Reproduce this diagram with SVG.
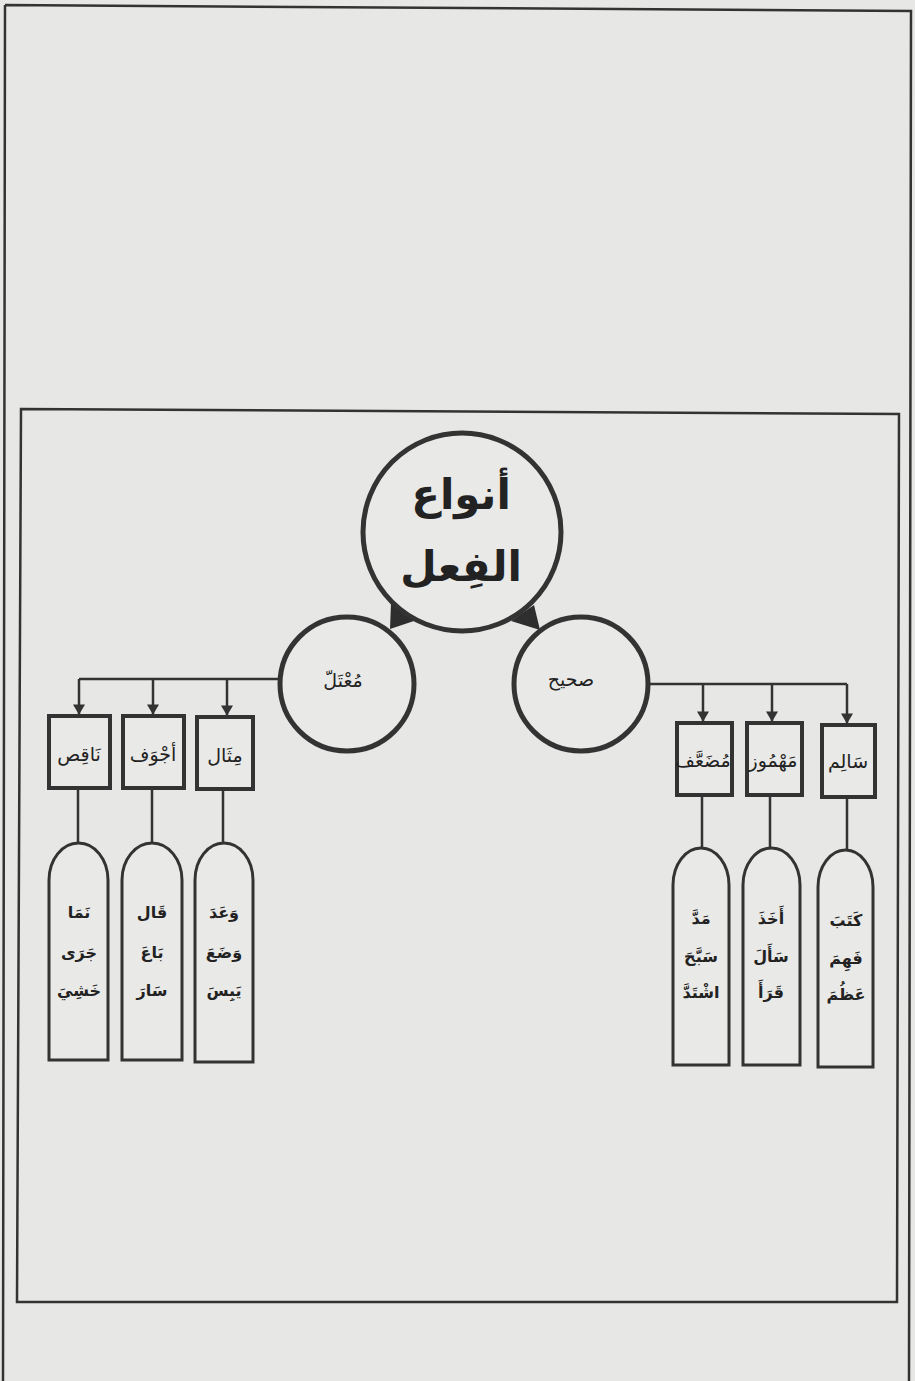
<svg xmlns="http://www.w3.org/2000/svg" width="915" height="1381" viewBox="0 0 915 1381">
<style>
.frame{fill:none;stroke:#333;stroke-width:2.5}
.circ{fill:#e9e9e7;stroke:#333;stroke-width:5}
.box{fill:#e9e9e7;stroke:#333;stroke-width:4}
.cap{fill:#e9e9e7;stroke:#333;stroke-width:3}
.ln{fill:none;stroke:#333;stroke-width:2.5}
.wedge{fill:#2e2e2e}
text{font-family:"DejaVu Sans",sans-serif;fill:#222;text-anchor:middle}
.big{font-size:42px;font-weight:bold}
.mid{font-size:19px}
.lbl{font-size:19px}
.ex{font-size:16px;font-weight:bold}
</style>
<defs>
<marker id="arr" markerUnits="userSpaceOnUse" markerWidth="14" markerHeight="12" viewBox="0 0 12 14" refX="11" refY="7" orient="auto">
<path d="M0,0 L12,7 L0,14 Z" fill="#333"/>
</marker>
</defs>
<rect x="0" y="0" width="915" height="1381" fill="#e7e7e5"/>
<path class="frame" d="M5,5 L911,11 L909,1381 M5,5 L3,1381"/>
<path class="frame" d="M21,409 L899,414 L897,1302 L17,1302 Z"/>

<g id="connectors">
<polygon class="wedge" points="391,603 414,621 390,629"/>
<polygon class="wedge" points="511,621 534,605 540,630"/>
<path class="ln" d="M280,679 H79"/>
<path class="ln" d="M79,679 V714" marker-end="url(#arr)"/>
<path class="ln" d="M153,679 V714" marker-end="url(#arr)"/>
<path class="ln" d="M227,679 V715" marker-end="url(#arr)"/>
<path class="ln" d="M650,684 H847"/>
<path class="ln" d="M703,684 V721" marker-end="url(#arr)"/>
<path class="ln" d="M772,684 V721" marker-end="url(#arr)"/>
<path class="ln" d="M847,684 V723" marker-end="url(#arr)"/>
<path class="ln" d="M78,789 V843 M152,789 V843 M223,790 V843"/>
<path class="ln" d="M702,796 V848 M770,796 V848 M847,798 V850"/>
</g>

<g id="root">
<circle class="circ" cx="462" cy="532" r="99"/>
<text class="big" x="461" y="509">أنواع</text>
<text class="big" x="461" y="581">الفِعل</text>
</g>
<g id="muatal">
<circle class="circ" cx="347" cy="684" r="67"/>
<text class="mid" x="343" y="687">مُعْتَلّ</text>
</g>
<g id="sahih">
<circle class="circ" cx="581" cy="684" r="67"/>
<text class="mid" x="571" y="686">صحيح</text>
</g>

<g id="naqis">
<rect class="box" x="49" y="716" width="61" height="72"/>
<text class="lbl" x="79" y="761">نَاقِص</text>
</g>
<g id="ajwaf">
<rect class="box" x="123" y="716" width="61" height="72"/>
<text class="lbl" x="153" y="761">أجْوَف</text>
</g>
<g id="mithal">
<rect class="box" x="197" y="717" width="56" height="72"/>
<text class="lbl" x="225" y="762">مِثَال</text>
</g>
<g id="mudaaf">
<rect class="box" x="677" y="723" width="55" height="72"/>
<text class="lbl" x="703" y="767">مُضَعَّف</text>
</g>
<g id="mahmuz">
<rect class="box" x="747" y="723" width="55" height="72"/>
<text class="lbl" x="773" y="767">مَهْمُوز</text>
</g>
<g id="salim">
<rect class="box" x="822" y="725" width="53" height="72"/>
<text class="lbl" x="848" y="768">سَالِم</text>
</g>

<g id="ex-naqis">
<path class="cap" d="M49,1060 V880 A29.5,37 0 0 1 108,880 V1060 Z"/>
<text class="ex" x="79" y="918">نَمَا</text>
<text class="ex" x="79" y="958">جَرَى</text>
<text class="ex" x="79" y="996">خَشِيَ</text>
</g>
<g id="ex-ajwaf">
<path class="cap" d="M122,1060 V880 A30,37 0 0 1 182,880 V1060 Z"/>
<text class="ex" x="152" y="918">قَال</text>
<text class="ex" x="152" y="958">بَاعَ</text>
<text class="ex" x="152" y="996">سَارَ</text>
</g>
<g id="ex-mithal">
<path class="cap" d="M195,1062 V880 A29,37 0 0 1 253,880 V1062 Z"/>
<text class="ex" x="224" y="918">وَعَدَ</text>
<text class="ex" x="224" y="958">وَضَعَ</text>
<text class="ex" x="224" y="996">يَبِسَ</text>
</g>
<g id="ex-mudaaf">
<path class="cap" d="M673,1065 V885 A28,37 0 0 1 729,885 V1065 Z"/>
<text class="ex" x="701" y="924">مَدَّ</text>
<text class="ex" x="701" y="962">سَبَّحَ</text>
<text class="ex" x="701" y="998">اشْتَدَّ</text>
</g>
<g id="ex-mahmuz">
<path class="cap" d="M743,1065 V885 A28.5,37 0 0 1 800,885 V1065 Z"/>
<text class="ex" x="771" y="924">أَخَذَ</text>
<text class="ex" x="771" y="962">سَأَلَ</text>
<text class="ex" x="771" y="998">قَرَأَ</text>
</g>
<g id="ex-salim">
<path class="cap" d="M818,1067 V887 A27.5,37 0 0 1 873,887 V1067 Z"/>
<text class="ex" x="846" y="926">كَتَبَ</text>
<text class="ex" x="846" y="964">فَهِمَ</text>
<text class="ex" x="846" y="1000">عَظُمَ</text>
</g>
</svg>
